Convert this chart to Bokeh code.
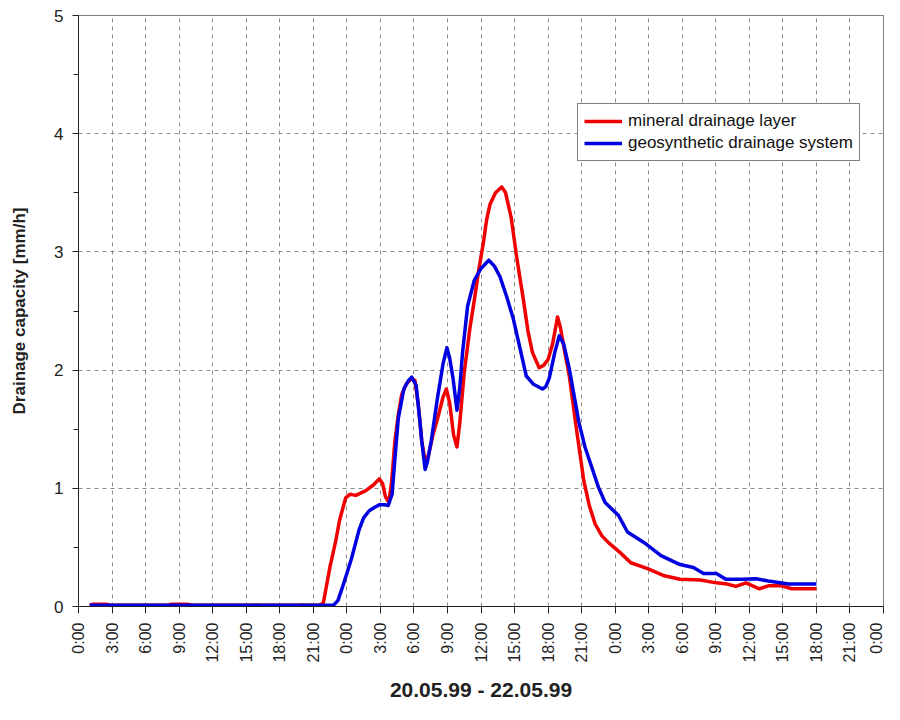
from bokeh.plotting import figure
from bokeh.models import Range1d, FixedTicker, Legend, LegendItem
from bokeh.embed import file_html
from bokeh.resources import INLINE
import math

# hours since 20.05.99 0:00
tick_hours = list(range(0, 73, 3))
tick_labels = ["0:00", "3:00", "6:00", "9:00", "12:00", "15:00", "18:00", "21:00"] * 3 + ["0:00"]

mineral_h = [1.0, 1.3, 2.5, 2.9, 8.0, 8.3, 9.7, 10.2, 15.5, 15.9, 16.3, 19.7, 20.1, 20.5, 21.5, 21.9,
             22.5, 23.0, 23.35, 23.9, 24.3, 24.8, 25.7, 26.4, 26.9, 27.2, 27.45, 27.75, 28.0, 28.3,
             28.6, 28.9, 29.3, 29.8, 30.1, 30.4, 30.7, 31.0, 31.3, 31.7, 32.2, 32.6, 32.9, 33.2,
             33.55, 33.85, 34.1, 34.5, 35.0, 35.4, 35.8, 36.2, 36.5, 36.8, 37.3, 37.85, 38.2, 38.7,
             39.2, 39.8, 40.2, 40.6, 41.2, 41.6, 42.0, 42.4, 42.85, 43.1, 43.5, 43.9, 44.45, 45.2,
             45.7, 46.2, 46.8, 47.4, 48.4, 49.4, 50.9, 52.4, 53.8, 55.6, 57.05, 58.0, 58.8, 59.7,
             60.4, 60.9, 61.7, 62.9, 63.8, 66.0]
mineral_v = [0.01, 0.02, 0.02, 0.01, 0.01, 0.02, 0.02, 0.01, 0.01, 0.013, 0.01, 0.01, 0.013, 0.01, 0.01, 0.03,
             0.34, 0.55, 0.73, 0.92, 0.95, 0.94, 0.98, 1.03, 1.08, 1.04, 0.93, 0.88, 1.05, 1.40,
             1.62, 1.79, 1.88, 1.93, 1.91, 1.70, 1.40, 1.23, 1.28, 1.45, 1.62, 1.77, 1.84, 1.72,
             1.45, 1.35, 1.55, 1.98, 2.35, 2.59, 2.85, 3.07, 3.27, 3.40, 3.50, 3.55, 3.50, 3.29,
             2.95, 2.59, 2.33, 2.15, 2.02, 2.04, 2.09, 2.22, 2.45, 2.36, 2.15, 1.95, 1.56, 1.06,
             0.85, 0.70, 0.60, 0.54, 0.46, 0.37, 0.32, 0.26, 0.23, 0.225, 0.20, 0.19, 0.17, 0.20,
             0.17, 0.15, 0.175, 0.175, 0.15, 0.15]

geo_h = [1.0, 22.8, 23.2, 23.65, 24.0, 24.4, 25.1, 25.5, 26.0, 26.5, 26.9, 27.4, 27.7, 28.05, 28.3,
         28.6, 29.1, 29.5, 29.8, 30.2, 30.5, 30.7, 31.0, 31.2, 31.55, 32.1, 32.6, 32.95, 33.2, 33.5,
         33.85, 34.1, 34.35, 34.8, 35.4, 36.0, 36.7, 37.2, 37.7, 38.3, 38.9, 39.5, 40.05, 40.7,
         41.5, 41.8, 42.1, 42.6, 43.0, 43.4, 43.9, 44.75, 45.3, 45.9, 46.5, 47.1, 48.3, 49.1,
         50.6, 52.1, 53.8, 55.0, 55.9, 57.05, 57.9, 59.4, 60.6, 61.7, 63.5, 66.0]
geo_v = [0.01, 0.01, 0.05, 0.175, 0.28, 0.40, 0.65, 0.75, 0.81, 0.84, 0.86, 0.86, 0.855, 0.95, 1.25,
         1.59, 1.84, 1.91, 1.94, 1.87, 1.60, 1.40, 1.16, 1.22, 1.40, 1.76, 2.05, 2.19, 2.10, 1.93,
         1.66, 1.85, 2.15, 2.54, 2.76, 2.86, 2.93, 2.88, 2.79, 2.62, 2.43, 2.18, 1.95, 1.88,
         1.84, 1.86, 1.93, 2.15, 2.29, 2.22, 2.01, 1.56, 1.35, 1.18, 1.01, 0.88, 0.77, 0.63,
         0.54, 0.43, 0.355, 0.33, 0.28, 0.28, 0.23, 0.23, 0.235, 0.215, 0.19, 0.19]

series_names = ["mineral drainage layer", "geosynthetic drainage system"]
series_colors = ["#f00000", "#0000e0"]

FONT = "Liberation Sans"

p = figure(width=884, height=704, output_backend="svg", toolbar_location=None,
           x_range=Range1d(0, 72), y_range=Range1d(0, 5),
           min_border_left=78, min_border_right=1, min_border_top=15, min_border_bottom=98)
p.background_fill_color = "white"
p.border_fill_color = "white"
p.outline_line_color = "#808080"
p.outline_line_width = 1

r1 = p.line(mineral_h, mineral_v, line_color=series_colors[0], line_width=3.5, line_join="round")
r2 = p.line(geo_h, geo_v, line_color=series_colors[1], line_width=3.5, line_join="round")

# x axis
xt = FixedTicker(ticks=tick_hours)
p.xaxis.ticker = xt
p.xaxis.major_label_overrides = {h: lab for h, lab in zip(tick_hours, tick_labels)}
p.xaxis.major_label_orientation = math.pi / 2
p.xaxis.major_label_text_font = FONT
p.xaxis.major_label_text_font_size = "16px"
p.xaxis.major_label_text_color = "#222222"
p.xaxis.major_label_standoff = 9
p.xaxis.major_tick_in = 0
p.xaxis.major_tick_out = 7
p.xaxis.minor_tick_line_color = None
p.xaxis.axis_line_color = "#222222"
p.xaxis.major_tick_line_color = "#222222"
p.xaxis.axis_label = "20.05.99 - 22.05.99"
p.xaxis.axis_label_text_font = FONT
p.xaxis.axis_label_text_font_style = "bold"
p.xaxis.axis_label_text_font_size = "21px"
p.xaxis.axis_label_text_color = "#222222"
p.xaxis.axis_label_standoff = 12

# y axis
p.yaxis.ticker = FixedTicker(ticks=[0, 1, 2, 3, 4, 5], minor_ticks=[0.5, 1.5, 2.5, 3.5, 4.5])
p.yaxis.major_label_text_font = FONT
p.yaxis.major_label_text_font_size = "17px"
p.yaxis.major_label_text_color = "#222222"
p.yaxis.major_label_standoff = 9
p.yaxis.major_tick_in = 0
p.yaxis.major_tick_out = 6
p.yaxis.minor_tick_in = 0
p.yaxis.minor_tick_out = 5
p.yaxis.axis_line_color = "#222222"
p.yaxis.major_tick_line_color = "#222222"
p.yaxis.minor_tick_line_color = "#222222"
p.yaxis.axis_label = "Drainage capacity [mm/h]"
p.yaxis.axis_label_text_font = FONT
p.yaxis.axis_label_text_font_style = "bold"
p.yaxis.axis_label_text_font_size = "17px"
p.yaxis.axis_label_text_color = "#222222"
p.yaxis.axis_label_standoff = 22

# grids
p.xgrid.ticker = xt
p.xgrid.grid_line_color = "#8c8c8c"
p.xgrid.grid_line_dash = "4 4"
p.ygrid.grid_line_color = "#8c8c8c"
p.ygrid.grid_line_dash = "4 4"

legend = Legend(items=[LegendItem(label=series_names[0], renderers=[r1]),
                       LegendItem(label=series_names[1], renderers=[r2])],
                location=(499, 445))
legend.label_text_font = FONT
legend.label_text_font_size = "17px"
legend.label_text_color = "#111111"
legend.glyph_width = 38
legend.glyph_height = 22
legend.label_height = 22
legend.label_standoff = 6
legend.padding = 6
legend.spacing = 0
legend.margin = 0
legend.border_line_color = "black"
legend.border_line_width = 1
legend.background_fill_alpha = 1.0
p.add_layout(legend, "center")

open("out.html", "w").write(file_html(p, INLINE))
